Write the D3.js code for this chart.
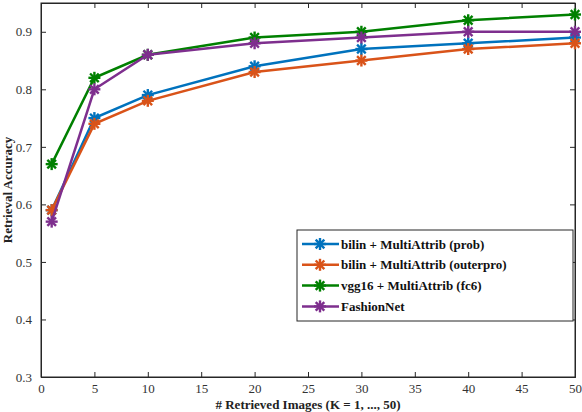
<!DOCTYPE html>
<html>
<head>
<meta charset="utf-8">
<script src="https://cdn.jsdelivr.net/npm/d3@7"></script>
<style>
body { margin: 0; background: #fff; }
</style>
</head>
<body>
<div id="chart"></div>
<script>
// data
const kValues = [1, 5, 10, 20, 30, 40, 50];
const probAcc = [0.59, 0.75, 0.79, 0.84, 0.87, 0.88, 0.89];
const outerAcc = [0.59, 0.74, 0.78, 0.83, 0.85, 0.87, 0.88];
const vggAcc = [0.67, 0.82, 0.86, 0.89, 0.90, 0.92, 0.93];
const fashionAcc = [0.57, 0.80, 0.86, 0.88, 0.89, 0.90, 0.90];
const seriesNames = ["bilin + MultiAttrib (prob)", "bilin + MultiAttrib (outerpro)", "vgg16 + MultiAttrib (fc6)", "FashionNet"];
const xTicks = [0, 5, 10, 15, 20, 25, 30, 35, 40, 45, 50];
const yTicks = [0.3, 0.4, 0.5, 0.6, 0.7, 0.8, 0.9];

const colors = ["#0072bd", "#d95319", "#008000", "#7e2f8e"];
const allSeries = [probAcc, outerAcc, vggAcc, fashionAcc];
const serif = "'Liberation Serif', 'Times New Roman', Times, serif";

const W = 582, H = 412;
const m = {left: 41, right: 7, top: 3, bottom: 35};

const svg = d3.select("#chart").append("svg")
  .attr("width", W).attr("height", H)
  .style("font-family", serif);

const x = d3.scaleLinear().domain([0, 50]).range([m.left, W - m.right]);
const y = d3.scaleLinear().domain([0.3, 0.95]).range([H - m.bottom, m.top]);

// axes, ticks inward
const axisColor = "#262626";
const xAxis = svg.append("g").attr("transform", `translate(0,${H - m.bottom})`)
  .call(d3.axisBottom(x).tickValues(xTicks).tickSize(-5).tickPadding(7).tickFormat(d3.format("d")));
const xTop = svg.append("g").attr("transform", `translate(0,${m.top})`)
  .call(d3.axisTop(x).tickValues(xTicks).tickSize(-5).tickFormat(""));
const yAxis = svg.append("g").attr("transform", `translate(${m.left},0)`)
  .call(d3.axisLeft(y).tickValues(yTicks).tickSize(-5).tickPadding(9).tickFormat(d3.format(".1f")));
const yRight = svg.append("g").attr("transform", `translate(${W - m.right},0)`)
  .call(d3.axisRight(y).tickValues(yTicks).tickSize(-5).tickFormat(""));

[xAxis, xTop, yAxis, yRight].forEach(g => {
  g.attr("font-family", null);
  g.select(".domain").attr("stroke", axisColor).attr("stroke-width", 1);
  g.selectAll(".tick line").attr("stroke", axisColor);
  g.selectAll("text").attr("fill", "#333").style("font-size", "13px").style("font-family", serif);
});
// fix corners of the box
svg.append("rect").attr("x", m.left).attr("y", m.top)
  .attr("width", W - m.right - m.left).attr("height", H - m.bottom - m.top)
  .attr("fill", "none").attr("stroke", axisColor).attr("stroke-width", 1);

svg.append("text").attr("x", (m.left + W - m.right) / 2).attr("y", H - 3)
  .attr("text-anchor", "middle").style("font-size", "13px").style("font-weight", "bold")
  .style("font-family", serif).attr("fill", "#222").text("# Retrieved Images (K = 1, ..., 50)");

svg.append("text").attr("transform", `translate(12,${(m.top + H - m.bottom) / 2}) rotate(-90)`)
  .attr("text-anchor", "middle").style("font-size", "13px").style("font-weight", "bold")
  .style("font-family", serif).attr("fill", "#222").text("Retrieval Accuracy");

// asterisk marker
function star(g, cx, cy, r, color) {
  const a = r * 0.72;
  const s = g.append("g").attr("transform", `translate(${cx},${cy})`)
    .attr("stroke", color).attr("stroke-width", 2.4);
  s.append("line").attr("x1", -r).attr("y1", 0).attr("x2", r).attr("y2", 0);
  s.append("line").attr("x1", 0).attr("y1", -r).attr("x2", 0).attr("y2", r);
  s.append("line").attr("x1", -a).attr("y1", -a).attr("x2", a).attr("y2", a);
  s.append("line").attr("x1", -a).attr("y1", a).attr("x2", a).attr("y2", -a);
}

const line = d3.line().x((d, i) => x(kValues[i])).y(d => y(d));

allSeries.forEach((vals, si) => {
  const g = svg.append("g");
  g.append("path").datum(vals).attr("d", line)
    .attr("fill", "none").attr("stroke", colors[si]).attr("stroke-width", 2.5);
  vals.forEach((v, i) => star(g, x(kValues[i]), y(v), 6, colors[si]));
});

// legend
const lg = svg.append("g").attr("transform", "translate(297,230)");
lg.append("rect").attr("width", 276).attr("height", 91)
  .attr("fill", "#fff").attr("stroke", axisColor).attr("stroke-width", 1);
seriesNames.forEach((name, i) => {
  const yy = 14 + i * 20.8;
  lg.append("line").attr("x1", 5).attr("x2", 42).attr("y1", yy).attr("y2", yy)
    .attr("stroke", colors[i]).attr("stroke-width", 2.5);
  star(lg, 23, yy, 6, colors[i]);
  lg.append("text").attr("x", 44).attr("y", yy + 4.5)
    .style("font-size", "13px").style("font-weight", "bold").style("font-family", serif)
    .attr("fill", "#111").text(name);
});
</script>
</body>
</html>
